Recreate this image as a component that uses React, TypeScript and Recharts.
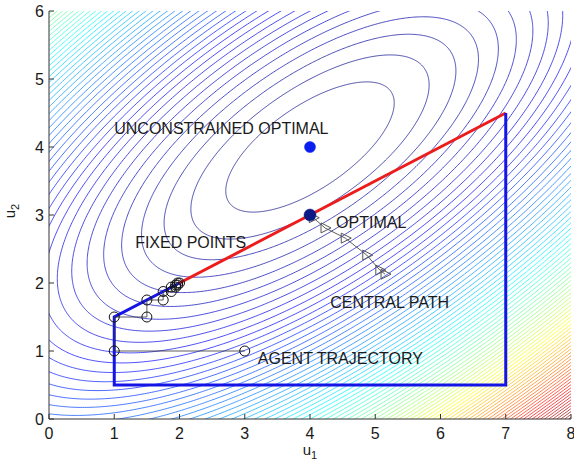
import React from 'react';
import { LineChart, Line, XAxis, YAxis } from 'recharts';

// ---------- data ----------
const X_TICKS = [0, 1, 2, 3, 4, 5, 6, 7, 8];
const Y_TICKS = [0, 1, 2, 3, 4, 5, 6];

// quadratic cost: f(u) = (u-c)^T A (u-c), parameters
const COST_CENTER = { x: 4, y: 4 };
const COST_MATRIX = { a11: 0.55, a12: -0.5, a22: 1.0 };
const CONTOUR_LEVELS = [
  0.5, 1, 1.5, 2, 2.5, 3, 3.5, 4, 4.5, 5, 5.5, 6, 6.5, 7, 7.5, 8, 8.5, 9, 9.5, 10,
  10.5, 11, 11.5, 12, 12.5, 13, 13.5, 14, 14.5, 15, 15.5, 16, 16.5, 17, 17.5, 18, 18.5, 19, 19.5, 20,
  20.5, 21, 21.5, 22, 22.5, 23, 23.5, 24, 24.5, 25, 25.5, 26, 26.5, 27, 27.5, 28, 28.5, 29, 29.5, 30,
  30.5, 31, 31.5, 32, 32.5, 33, 33.5, 34, 34.5, 35, 35.5, 36, 36.5, 37, 37.5, 38, 38.5, 39, 39.5, 40, 40.5,
];

const RED_X = [2, 7];
const RED_Y = [2, 4.5];
const BLUE_X = [2, 1, 1, 7, 7];
const BLUE_Y = [2, 1.5, 0.5, 0.5, 4.5];

const AGENT_X = [3, 1, 1, 1.5, 1.5, 1.75, 1.75, 1.875, 1.875, 1.94, 1.94, 1.97, 1.97, 2];
const AGENT_Y = [1, 1, 1.5, 1.5, 1.75, 1.75, 1.875, 1.875, 1.94, 1.94, 1.97, 1.97, 2, 2];

const CENTRAL_X = [4, 4.05, 4.23, 4.54, 4.87, 5.07, 5.15];
const CENTRAL_Y = [3, 2.96, 2.81, 2.66, 2.41, 2.19, 2.13];

const UNCONSTRAINED_OPT = { x: 4, y: 4 };
const CONSTRAINED_OPT = { x: 4, y: 3 };

const LABEL_TEXT = ['UNCONSTRAINED OPTIMAL', 'OPTIMAL', 'FIXED POINTS', 'CENTRAL PATH', 'AGENT TRAJECTORY'];
const LABEL_X = [1.0, 4.4, 1.32, 4.31, 3.2];
const LABEL_Y = [4.28, 2.9, 2.6, 1.71, 0.9];

// ---------- styling ----------
const FONT = '"Liberation Sans", Arial, Helvetica, sans-serif';
const TEXT_COLOR = '#1a1a1a';
const AXIS_COLOR = '#333';

function zip(xs: number[], ys: number[]) {
  return xs.map((x, i) => ({ x, y: ys[i] }));
}

function jet(t: number) {
  const c = (v: number) => Math.round(255 * Math.max(0, Math.min(1, v)));
  const r = c(1.5 - Math.abs(4 * t - 3));
  const g = c(1.5 - Math.abs(4 * t - 2));
  const b = c(1.5 - Math.abs(4 * t - 1));
  return `rgb(${r},${g},${b})`;
}

function contourPoints(level: number) {
  const { a11, a12, a22 } = COST_MATRIX;
  const m = (a11 + a22) / 2;
  const r = Math.sqrt(((a11 - a22) / 2) ** 2 + a12 ** 2);
  const l1 = m - r;
  const l2 = m + r;
  let v1x = a12;
  let v1y = l1 - a11;
  const n = Math.hypot(v1x, v1y);
  v1x /= n;
  v1y /= n;
  const v2x = -v1y;
  const v2y = v1x;
  const s1 = Math.sqrt(level / l1);
  const s2 = Math.sqrt(level / l2);
  const N = 720;
  const raw: { x: number; y: number; inside: boolean }[] = [];
  for (let i = 0; i <= N; i++) {
    const t = (2 * Math.PI * i) / N;
    const x = COST_CENTER.x + s1 * Math.cos(t) * v1x + s2 * Math.sin(t) * v2x;
    const y = COST_CENTER.y + s1 * Math.cos(t) * v1y + s2 * Math.sin(t) * v2y;
    raw.push({ x, y, inside: x >= -0.2 && x <= 8.2 && y >= -0.2 && y <= 6.2 });
  }
  const out: { x: number; y: number | null }[] = [];
  let broke = false;
  for (let i = 0; i <= N; i++) {
    const keep = raw[i].inside || (i > 0 && raw[i - 1].inside) || (i < N && raw[i + 1].inside);
    if (keep) {
      out.push({ x: raw[i].x, y: raw[i].y });
      broke = false;
    } else if (!broke) {
      out.push({ x: raw[i].x, y: null });
      broke = true;
    }
  }
  return out;
}

const LMIN = CONTOUR_LEVELS[0];
const LMAX = CONTOUR_LEVELS[CONTOUR_LEVELS.length - 1];
const CONTOURS = CONTOUR_LEVELS.map((L) => ({
  level: L,
  color: jet((L - LMIN) / (LMAX - LMIN)),
  data: contourPoints(L),
}));

// ---------- ticks ----------
const BottomTick = (props: any) => {
  const { x, y, payload } = props;
  return (
    <g>
      <line x1={x} y1={y} x2={x} y2={y - 5} stroke={AXIS_COLOR} strokeWidth={1} />
      <text x={x} y={y + 9} dy="0.71em" textAnchor="middle" fontSize={16} fontFamily={FONT} fill={TEXT_COLOR}>
        {payload.value}
      </text>
    </g>
  );
};
const TopTick = (props: any) => {
  const { x, y } = props;
  return <line x1={x} y1={y} x2={x} y2={y + 5} stroke={AXIS_COLOR} strokeWidth={1} />;
};
const LeftTick = (props: any) => {
  const { x, y, payload } = props;
  return (
    <g>
      <line x1={x} y1={y} x2={x + 5} y2={y} stroke={AXIS_COLOR} strokeWidth={1} />
      <text x={x - 5} y={y} dy="0.36em" textAnchor="end" fontSize={16} fontFamily={FONT} fill={TEXT_COLOR}>
        {payload.value}
      </text>
    </g>
  );
};
const RightTick = (props: any) => {
  const { x, y } = props;
  return <line x1={x} y1={y} x2={x - 5} y2={y} stroke={AXIS_COLOR} strokeWidth={1} />;
};

const XLabel = (props: any) => {
  const vb = props.viewBox || {};
  const cx = vb.x + vb.width / 2;
  const y = vb.y + 36;
  return (
    <text x={cx} y={y} textAnchor="middle" fontSize={15} fontFamily={FONT} fill={TEXT_COLOR}>
      u<tspan fontSize={11} dy={4}>1</tspan>
    </text>
  );
};
const YLabel = (props: any) => {
  const vb = props.viewBox || {};
  const x = 15;
  const cy = vb.y + vb.height / 2 - 4;
  return (
    <text x={x} y={cy} transform={`rotate(-90 ${x} ${cy})`} textAnchor="middle" fontSize={15} fontFamily={FONT} fill={TEXT_COLOR}>
      u<tspan fontSize={11} dy={4}>2</tspan>
    </text>
  );
};

const AgentDot = (props: any) => {
  const { cx, cy, index } = props;
  if (cx == null || cy == null) return <g key={`a${index}`} />;
  return <circle key={`a${index}`} cx={cx} cy={cy} r={5} fill="none" stroke="#111" strokeWidth={1} />;
};
const TriangleDot = (props: any) => {
  const { cx, cy, index } = props;
  if (index === 0 || cx == null) return <g key={`t${index}`} />;
  const pts = `${cx + 6},${cy} ${cx - 4},${cy - 5} ${cx - 4},${cy + 5}`;
  return <polygon key={`t${index}`} points={pts} fill="none" stroke="#555" strokeWidth={1} />;
};

export default function App() {
  return (
    <div style={{ position: 'absolute', left: 0, top: 0, background: '#fff' }}>
      <LineChart width={574} height={464} margin={{ top: 11, right: 3, left: 0, bottom: 0 }}>
        {CONTOURS.map((c) => (
          <Line
            key={`c${c.level}`}
            data={c.data}
            dataKey="y"
            type="linear"
            stroke={c.color}
            strokeWidth={0.7}
            dot={false}
            activeDot={false}
            connectNulls={false}
            isAnimationActive={false}
          />
        ))}
        <Line data={zip(RED_X, RED_Y)} dataKey="y" type="linear" stroke="#ec1c1c" strokeWidth={3} dot={false} activeDot={false} isAnimationActive={false} />
        <Line data={zip(BLUE_X, BLUE_Y)} dataKey="y" type="linear" stroke="#1414e6" strokeWidth={3} dot={false} activeDot={false} isAnimationActive={false} />
        <Line data={zip(AGENT_X, AGENT_Y)} dataKey="y" type="linear" stroke="#333" strokeWidth={0.8} dot={AgentDot} activeDot={false} isAnimationActive={false} />
        <Line data={zip(CENTRAL_X, CENTRAL_Y)} dataKey="y" type="linear" stroke="#333" strokeWidth={0.8} dot={TriangleDot} activeDot={false} isAnimationActive={false} />
        <Line data={[UNCONSTRAINED_OPT]} dataKey="y" stroke="none" dot={{ r: 5.5, fill: '#0a1ef0', stroke: '#0a1ef0', strokeWidth: 0.5 }} activeDot={false} isAnimationActive={false} />
        <Line data={[CONSTRAINED_OPT]} dataKey="y" stroke="none" dot={{ r: 6, fill: '#0c1a86', stroke: '#0c1a86', strokeWidth: 0.5 }} activeDot={false} isAnimationActive={false} />
        {LABEL_TEXT.map((t, i) => (
          <Line
            key={`l${i}`}
            data={[{ x: LABEL_X[i], y: LABEL_Y[i] }]}
            dataKey="y"
            stroke="none"
            activeDot={false}
            isAnimationActive={false}
            dot={(p: any) => (
              <text key={`lt${i}`} x={p.cx} y={p.cy} dy="0.36em" textAnchor="start" fontSize={16} fontFamily={FONT} fill={TEXT_COLOR}>
                {t}
              </text>
            )}
          />
        ))}
        <XAxis
          dataKey="x"
          type="number"
          domain={[0, 8]}
          ticks={X_TICKS}
          interval={0}
          allowDataOverflow
          height={45}
          tickLine={false}
          tickSize={0}
          tickMargin={0}
          tick={BottomTick}
          axisLine={{ stroke: AXIS_COLOR, strokeWidth: 1 }}
          label={<XLabel />}
        />
        <XAxis
          xAxisId="top"
          orientation="top"
          dataKey="x"
          type="number"
          domain={[0, 8]}
          ticks={X_TICKS}
          interval={0}
          allowDataOverflow
          height={0}
          tickLine={false}
          tickSize={0}
          tickMargin={0}
          tick={TopTick}
          axisLine={{ stroke: AXIS_COLOR, strokeWidth: 1 }}
        />
        <YAxis
          type="number"
          domain={[0, 6]}
          ticks={Y_TICKS}
          interval={0}
          allowDataOverflow
          width={49}
          tickLine={false}
          tickSize={0}
          tickMargin={0}
          tick={LeftTick}
          axisLine={{ stroke: AXIS_COLOR, strokeWidth: 1 }}
          label={<YLabel />}
        />
        <YAxis
          yAxisId="right"
          orientation="right"
          type="number"
          domain={[0, 6]}
          ticks={Y_TICKS}
          interval={0}
          allowDataOverflow
          width={0}
          tickLine={false}
          tickSize={0}
          tickMargin={0}
          tick={RightTick}
          axisLine={{ stroke: AXIS_COLOR, strokeWidth: 1 }}
        />
      </LineChart>
    </div>
  );
}
